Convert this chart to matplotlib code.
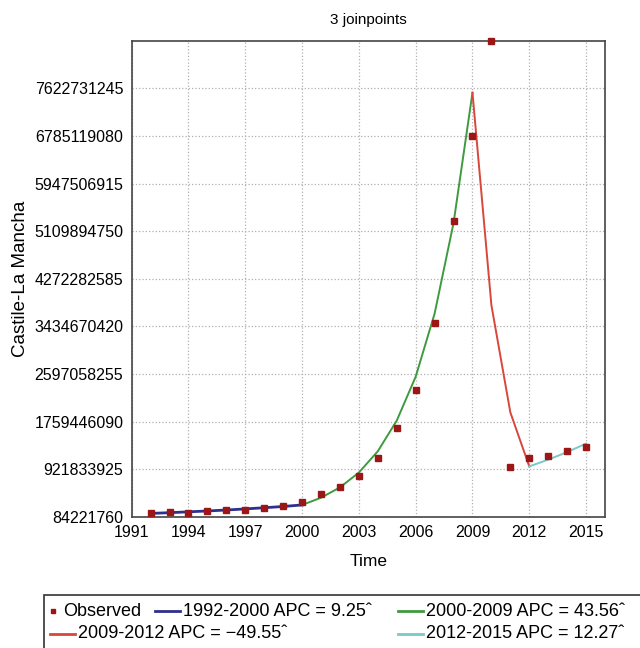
import numpy as np
import matplotlib
matplotlib.use('Agg')
import matplotlib.pyplot as plt
from matplotlib.lines import Line2D
from matplotlib.patches import Rectangle

plt.rcParams['font.family'] = ['Liberation Sans', 'DejaVu Sans']

years = list(range(1992, 2016))
observed = [149e6, 167e6, 142e6, 190e6, 207e6, 202e6, 237e6, 272e6, 335e6,
            483e6, 599e6, 792e6, 1120e6, 1652e6, 2320e6, 3491e6, 5282e6,
            6785e6, 8460343410, 962e6, 1120e6, 1160e6, 1248e6, 1313e6]

# fitted joinpoint segments
seg1_years = list(range(1992, 2001))
seg1_vals = [142e6, 155e6, 170e6, 185e6, 202e6, 221e6, 242e6, 264e6, 291e6]
seg2_years = list(range(2000, 2010))
seg2_vals = [291e6, 418e6, 600e6, 861e6, 1236e6, 1775e6, 2548e6, 3658e6,
             5251e6, 7545e6]
seg3_years = [2009, 2010, 2011, 2012]
seg3_vals = [7545e6, 3806e6, 1920e6, 969e6]
seg4_years = [2012, 2013, 2014, 2015]
seg4_vals = [969e6, 1088e6, 1221e6, 1371e6]

seg_labels = ['1992-2000 APC = 9.25\u02c6', '2000-2009 APC = 43.56\u02c6',
              '2009-2012 APC = \u221249.55\u02c6', '2012-2015 APC = 12.27\u02c6']
seg_colors = ['#2f2f8c', '#3f9a3f', '#d8473a', '#7cc8c6']
obs_color = '#9b1616'

yticks = [84221760 + 837612165 * i for i in range(10)]
xticks = list(range(1991, 2016, 3))

W, H = 640, 648
fig = plt.figure(figsize=(W / 100, H / 100), dpi=100)
ax = fig.add_axes([131.7 / W, 1 - 516.7 / H, (605 - 131.7) / W, (516.7 - 40.7) / H])

ax.plot(seg1_years, seg1_vals, color=seg_colors[0], lw=2.0, zorder=3)
ax.plot(seg2_years, seg2_vals, color=seg_colors[1], lw=1.4, zorder=3)
ax.plot(seg3_years, seg3_vals, color=seg_colors[2], lw=1.4, zorder=3)
ax.plot(seg4_years, seg4_vals, color=seg_colors[3], lw=1.4, zorder=3)
ax.plot(years, observed, ls='none', marker='s', ms=5, color=obs_color,
        clip_on=False, zorder=4)

ax.set_xlim(1991, 2016)
ax.set_ylim(84221760, 84221760 + 837612165 * 10)
ax.set_xticks(xticks)
ax.set_yticks(yticks)
ax.set_yticklabels([str(v) for v in yticks])
ax.tick_params(length=0, labelsize=11.5, pad=6)
ax.grid(True, ls=':', color='#b0b0b0', lw=0.9)
for s in ax.spines.values():
    s.set_color('#444444')
    s.set_linewidth(1.2)

ax.set_title('3 joinpoints', fontsize=11, pad=12)
ax.set_xlabel('Time', fontsize=12.5, labelpad=10)
ax.set_ylabel('Castile-La Mancha', fontsize=13.5, labelpad=4)

# legend box below the chart, drawn by hand
def fx(px):
    return px / W

def fy(py):
    return 1 - py / H

fig.add_artist(Rectangle((fx(44), fy(660)), fx(640 - 44 + 10), fy(595) - fy(660),
                         transform=fig.transFigure, fill=False,
                         edgecolor='#333333', lw=1.2))
fsz = 13
r1, r2 = 611, 634
fig.add_artist(Line2D([fx(53)], [fy(r1)], marker='s', ms=3.5, color=obs_color,
                      transform=fig.transFigure))
fig.text(fx(63), fy(r1), 'Observed', fontsize=fsz, va='center')
entries = [(155, r1, 0), (398, r1, 1), (50, r2, 2), (398, r2, 3)]
for x0, yy, k in entries:
    fig.add_artist(Line2D([fx(x0), fx(x0 + 25)], [fy(yy), fy(yy)],
                          color=seg_colors[k], lw=2, transform=fig.transFigure))
    fig.text(fx(x0 + 28), fy(yy), seg_labels[k], fontsize=fsz, va='center')

fig.savefig('out.png', dpi=100)
